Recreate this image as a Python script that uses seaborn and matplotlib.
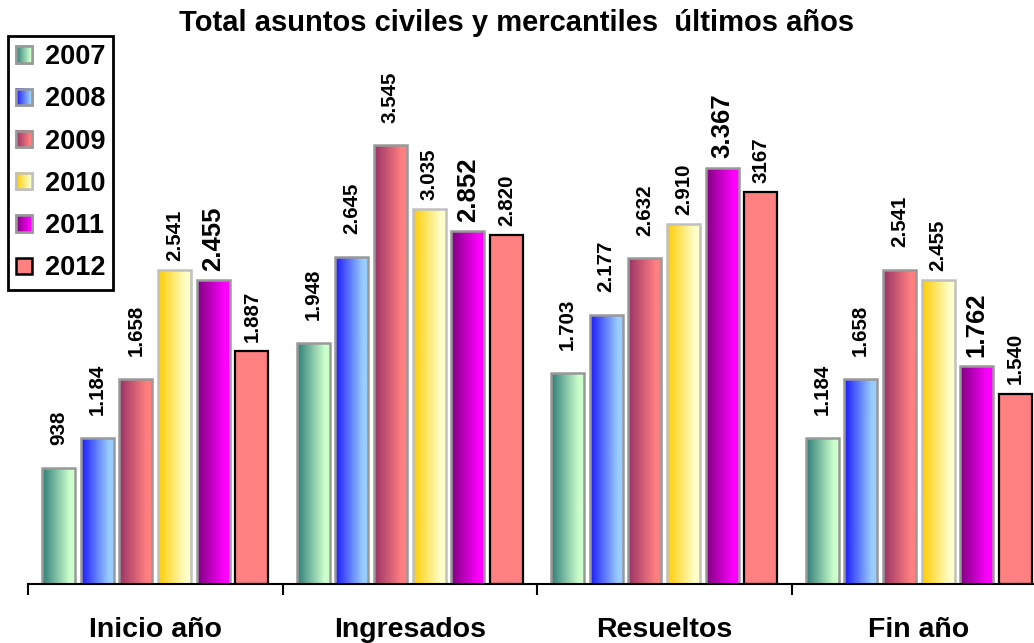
import numpy as np
import pandas as pd
import matplotlib
matplotlib.use("Agg")
import matplotlib.pyplot as plt
import seaborn as sns
from matplotlib.patches import Patch, Rectangle
from matplotlib.image import BboxImage
from matplotlib.transforms import IdentityTransform

# --- data ---
categorias = ["Inicio año", "Ingresados", "Resueltos", "Fin año"]
anios = ["2007", "2008", "2009", "2010", "2011", "2012"]

v2007 = [938, 1948, 1703, 1184]
v2008 = [1184, 2645, 2177, 1658]
v2009 = [1658, 3545, 2632, 2541]
v2010 = [2541, 3035, 2910, 2455]
v2011 = [2455, 2852, 3367, 1762]
v2012 = [1887, 2820, 3167, 1540]

l2007 = ["938", "1.948", "1.703", "1.184"]
l2008 = ["1.184", "2.645", "2.177", "1.658"]
l2009 = ["1.658", "3.545", "2.632", "2.541"]
l2010 = ["2.541", "3.035", "2.910", "2.455"]
l2011 = ["2.455", "2.852", "3.367", "1.762"]
l2012 = ["1.887", "2.820", "3167", "1.540"]

valores = [v2007, v2008, v2009, v2010, v2011, v2012]
etiquetas = [l2007, l2008, l2009, l2010, l2011, l2012]

# gradient (left colour, right colour) per year; 2012 is flat
degradados = {
    "2007": ("#2e7d78", "#ccffcc"),
    "2008": ("#1a1aff", "#99ccff"),
    "2009": ("#993366", "#ff8080"),
    "2010": ("#ffcc00", "#ffffcc"),
    "2011": ("#800080", "#ff00ff"),
    "2012": ("#ff8080", "#ff8080"),
}
bordes = {"2007": "#999999", "2008": "#999999", "2009": "#999999",
          "2010": "#c0c0c0", "2011": "#999999", "2012": "#000000"}

df = pd.DataFrame([
    {"categoria": c, "anio": a, "valor": v}
    for a, vals in zip(anios, valores)
    for c, v in zip(categorias, vals)
])


def gradiente(c1, c2, n=64):
    a = np.array(matplotlib.colors.to_rgb(c1))
    b = np.array(matplotlib.colors.to_rgb(c2))
    t = np.clip(np.linspace(0, 1, n) / 0.85, 0, 1)[:, None]
    return (a + (b - a) * t)[None, :, :]


sns.set_style("white")
plt.rcParams["font.family"] = ["Liberation Sans", "DejaVu Sans"]
plt.rcParams["font.weight"] = "bold"
plt.rcParams["text.color"] = "black"
plt.rcParams["xtick.color"] = "black"
plt.rcParams["xtick.labelcolor"] = "black"

fig = plt.figure(figsize=(10.34, 6.43), dpi=100)
ax = fig.add_axes([28 / 1034, 59 / 643, 1018 / 1034, 494.8 / 643])

paleta = {a: degradados[a][1] for a in anios}
sns.barplot(data=df, x="categoria", y="valor", hue="anio", palette=paleta,
            width=0.912, gap=0.147, ax=ax, legend=False, saturation=1)

for anio, cont, labs in zip(anios, ax.containers, etiquetas):
    c1, c2 = degradados[anio]
    for bar in cont:
        x, y = bar.get_x(), bar.get_y()
        w, h = bar.get_width(), bar.get_height()
        if anio != "2012":
            img = ax.imshow(gradiente(c1, c2), extent=[x, x + w, y, y + h],
                            aspect="auto", interpolation="bilinear", zorder=2)
            img.set_clip_path(bar)
            bar.set_facecolor("none")
        bar.set_edgecolor(bordes[anio])
        bar.set_linewidth(1.8 if anio != "2012" else 1.6)
        bar.set_zorder(3)
    grande = anio == "2011"
    ax.bar_label(cont, labels=labs, rotation=90, color="black",
                 padding=6.5 if anio in ("2010", "2011", "2012") else 16.5,
                 fontsize=18.5 if grande else 14.8, fontweight="bold")

ax.set_xlim(-0.5, 3.5)
ax.set_ylim(0, 4000)
ax.set_xlabel("")
ax.set_ylabel("")
ax.set_yticks([])
for s in ["left", "right", "top"]:
    ax.spines[s].set_visible(False)
ax.spines["bottom"].set_color("black")
ax.spines["bottom"].set_linewidth(1.5)
ax.spines["bottom"].set_zorder(4)
ax.set_xticks(range(4))
ax.set_xticklabels(categorias, fontsize=20.5, fontweight="bold", color="black")
ax.set_xticks([-0.5, 0.5, 1.5, 2.5, 3.5], minor=True)
ax.tick_params(axis="x", which="major", length=0, pad=24)
ax.tick_params(axis="x", which="minor", length=8, width=1.5, color="black",
               direction="out", bottom=True)

fig.text(0.5, 1 - 23 / 643, "Total asuntos civiles y mercantiles  últimos años",
         ha="center", va="center", fontsize=21, fontweight="bold", color="black")

handles = [Patch(facecolor=degradados[a][1], edgecolor=bordes[a], linewidth=1.8)
           for a in anios]
leg = fig.legend(handles, anios, loc="upper left",
                 bbox_to_anchor=(8 / 1034, 1 - 36 / 643), borderaxespad=0,
                 prop={"size": 19.5, "weight": "bold"}, frameon=True, fancybox=False,
                 framealpha=1, edgecolor="black", handlelength=0.6, handleheight=0.55,
                 handletextpad=0.45, borderpad=0.3, labelspacing=0.6)
leg.get_frame().set_linewidth(2)
for t in leg.get_texts():
    t.set_color("black")

fig.canvas.draw()
renderer = fig.canvas.get_renderer()
for anio, patch in zip(anios, leg.legend_handles):
    if anio == "2012":
        continue
    bb = patch.get_window_extent(renderer)
    im = BboxImage(bb, data=gradiente(*degradados[anio]), interpolation="bilinear")
    im.set_zorder(6)
    fig.add_artist(im)
    r = Rectangle((bb.x0, bb.y0), bb.width, bb.height, transform=IdentityTransform(),
                  facecolor="none", edgecolor=bordes[anio], linewidth=1.8, zorder=7)
    fig.add_artist(r)

fig.savefig("out.png", dpi=100)
